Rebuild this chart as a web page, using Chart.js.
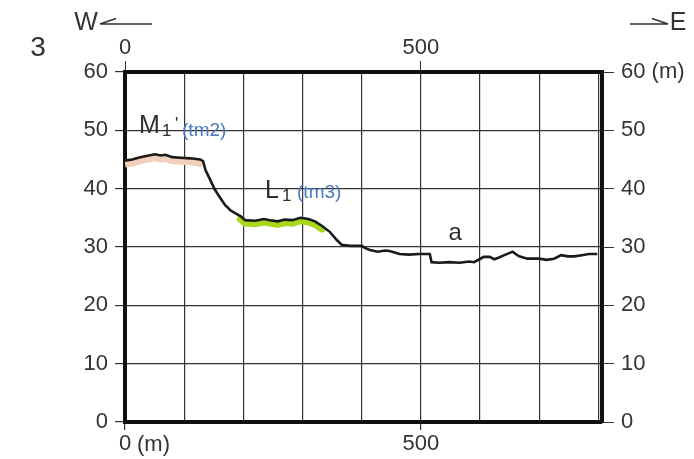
<!DOCTYPE html>
<html>
<head>
<meta charset="utf-8">
<script src="https://cdn.jsdelivr.net/npm/chart.js@4/dist/chart.umd.min.js"></script>
<style>
html, body { margin: 0; padding: 0; background: #fff; }
#wrap { width: 694px; height: 459px; }
</style>
</head>
<body>
<div id="wrap"><canvas id="myGraphic"></canvas></div>
<script>
// Distancia a lo largo del perfil (m) y altura (m)
var distancia = [0, 12, 26, 40, 51, 60, 68, 80, 93, 110, 127, 132, 136, 144, 152, 161, 169, 178, 186, 195,
    203, 220, 235, 245, 258, 270, 283, 296, 310, 321, 333, 346, 358, 366, 380, 400, 406, 414, 427, 440,
    447, 464, 480, 497, 515, 518, 531, 548, 565, 582, 590, 599, 606, 616, 624, 632, 641, 655, 660, 666,
    680, 700, 712, 725, 737, 748, 759, 772, 784, 798];
var altura = [44.8, 45.0, 45.4, 45.7, 45.9, 45.7, 45.8, 45.4, 45.3, 45.2, 45.0, 44.7, 43.2, 41.5, 39.8, 38.4, 37.2, 36.3, 35.8, 35.3,
    34.6, 34.5, 34.8, 34.6, 34.4, 34.7, 34.6, 35.0, 34.8, 34.4, 33.6, 32.6, 31.2, 30.4, 30.2, 30.2, 29.8, 29.5, 29.2, 29.4,
    29.3, 28.8, 28.7, 28.8, 28.8, 27.4, 27.3, 27.4, 27.3, 27.5, 27.4, 27.9, 28.3, 28.3, 27.9, 28.2, 28.6, 29.2, 28.8, 28.4,
    28.0, 28.0, 27.8, 28.0, 28.6, 28.4, 28.4, 28.6, 28.8, 28.8];

// Tramos de terraza (m)
var tramoM1 = [0, 132];
var tramoL1 = [195, 335];

// Ejes
var gridDistancia = [0, 100, 200, 300, 400, 500, 600, 700, 800];
var ticksDistancia = [0, 500];
var distanciaMax = 806;
var alturaMin = 0;
var alturaMax = 60;

var puntos = distancia.map(function (d, i) { return { x: d, y: altura[i] }; });
var enTramo = function (t) {
    return puntos.filter(function (p) { return p.x >= t[0] && p.x <= t[1]; });
};

var familia = 'Liberation Sans, Arial, sans-serif';
var fuente = { family: familia, size: 22 };
var colorTexto = '#333';

var tickVisible = function (c) {
    return (c.tick && ticksDistancia.indexOf(c.tick.value) >= 0) ? '#333' : 'rgba(0,0,0,0)';
};
var ponerGrid = function (s) {
    s.ticks = gridDistancia.map(function (v) { return { value: v }; });
};
var etiquetaX = function (v) { return ticksDistancia.indexOf(v) >= 0 ? String(v) : ''; };

// Las bandas de color van un poco por debajo de la linea negra
var desplazar = {
    id: 'desplazar',
    beforeDatasetDraw: function (chart, args) {
        if (args.index > 0) { chart.ctx.save(); chart.ctx.translate(0, 3); }
    },
    afterDatasetDraw: function (chart, args) {
        if (args.index > 0) { chart.ctx.restore(); }
    }
};

// Textos sobre el grafico
var textos = {
    id: 'textos',
    afterDraw: function (chart) {
        var c = chart.ctx;
        var x = chart.scales.x, y = chart.scales.y;
        c.save();
        c.fillStyle = colorTexto;
        c.strokeStyle = '#333';
        c.textBaseline = 'middle';

        c.font = '28px ' + familia;
        c.textAlign = 'center';
        c.fillText('3', 38, 48);

        // W <---
        c.font = '25px ' + familia;
        c.fillText('W', 86, 23);
        c.lineWidth = 1.6;
        c.beginPath();
        c.moveTo(100, 24); c.lineTo(152, 24);
        c.moveTo(100, 24); c.lineTo(116, 18.5);
        c.stroke();

        // ---> E
        c.fillText('E', 678, 23);
        c.beginPath();
        c.moveTo(630, 24); c.lineTo(668, 24);
        c.moveTo(668, 24); c.lineTo(652, 18.5);
        c.stroke();

        // (m) junto al 0 inferior
        c.font = fuente.size + 'px ' + familia;
        c.textAlign = 'left';
        c.fillText('(m)', x.getPixelForValue(0) + 12, 445);

        // M1'(tm2)
        var px = x.getPixelForValue(23.7), py = y.getPixelForValue(50.7);
        c.font = '25px ' + familia;
        c.fillStyle = '#2e2e2e';
        c.fillText('M', px, py);
        c.font = '17px ' + familia;
        c.fillText('1', px + 23, py + 5);
        c.fillText("'", px + 36, py - 2);
        c.font = '19px ' + familia;
        c.fillStyle = '#4a7bc2';
        c.fillText('(tm2)', px + 43, py + 5);

        // L1(tm3)
        px = x.getPixelForValue(236.6); py = y.getPixelForValue(39.5);
        c.font = '25px ' + familia;
        c.fillStyle = '#2e2e2e';
        c.fillText('L', px, py);
        c.font = '17px ' + familia;
        c.fillText('1', px + 17, py + 5);
        c.font = '19px ' + familia;
        c.fillStyle = '#4a7bc2';
        c.fillText('(tm3)', px + 32, py + 1);

        // a
        px = x.getPixelForValue(558); py = y.getPixelForValue(32.3);
        c.font = '24px ' + familia;
        c.fillStyle = '#2e2e2e';
        c.textAlign = 'center';
        c.fillText('a', px, py);
        c.restore();
    }
};

var myChart = new Chart('myGraphic', {
    type: 'line',
    data: {
        datasets: [{
            label: 'Perfil',
            data: puntos,
            borderColor: '#1a1a1a',
            borderWidth: 2.6,
            pointRadius: 0,
            order: 0
        }, {
            label: "M1' (tm2)",
            data: enTramo(tramoM1),
            borderColor: '#f2cfbc',
            borderWidth: 8,
            pointRadius: 0,
            order: 1
        }, {
            label: 'L1 (tm3)',
            data: enTramo(tramoL1),
            borderColor: '#a8d81c',
            borderWidth: 7,
            borderCapStyle: 'round',
            pointRadius: 0,
            order: 1
        }]
    },
    options: {
        responsive: true,
        maintainAspectRatio: false,
        animation: false,
        layout: { padding: 0 },
        plugins: {
            legend: { display: false },
            tooltip: { enabled: false }
        },
        scales: {
            x: {
                type: 'linear',
                position: 'bottom',
                min: 0,
                max: distanciaMax,
                afterBuildTicks: ponerGrid,
                afterFit: function (s) { s.height = 37; },
                ticks: {
                    autoSkip: false,
                    maxRotation: 0,
                    padding: 1,
                    color: colorTexto,
                    font: fuente,
                    callback: etiquetaX
                },
                grid: { color: '#333', lineWidth: 1.2, tickLength: 8, tickColor: tickVisible },
                border: { color: '#111', width: 4 }
            },
            xTop: {
                type: 'linear',
                position: 'top',
                min: 0,
                max: distanciaMax,
                afterBuildTicks: ponerGrid,
                afterFit: function (s) { s.height = 72; },
                ticks: {
                    autoSkip: false,
                    maxRotation: 0,
                    padding: 0,
                    color: colorTexto,
                    font: fuente,
                    callback: etiquetaX
                },
                grid: { drawOnChartArea: false, tickLength: 11, tickColor: tickVisible },
                border: { color: '#111', width: 4 }
            },
            y: {
                position: 'left',
                min: alturaMin,
                max: alturaMax,
                afterFit: function (s) { s.width = 125; },
                ticks: { stepSize: 10, padding: 7, color: colorTexto, font: fuente },
                grid: { color: '#333', lineWidth: 1.2, tickLength: 10, tickColor: '#333' },
                border: { color: '#111', width: 4 }
            },
            yRight: {
                position: 'right',
                min: alturaMin,
                max: alturaMax,
                afterFit: function (s) { s.width = 92; },
                ticks: {
                    stepSize: 10,
                    padding: 7,
                    color: colorTexto,
                    font: fuente,
                    callback: function (v) { return v === alturaMax ? v + ' (m)' : v; }
                },
                grid: { drawOnChartArea: false, tickLength: 12, tickColor: '#333' },
                border: { color: '#111', width: 4 }
            }
        }
    },
    plugins: [desplazar, textos]
});
</script>
</body>
</html>
